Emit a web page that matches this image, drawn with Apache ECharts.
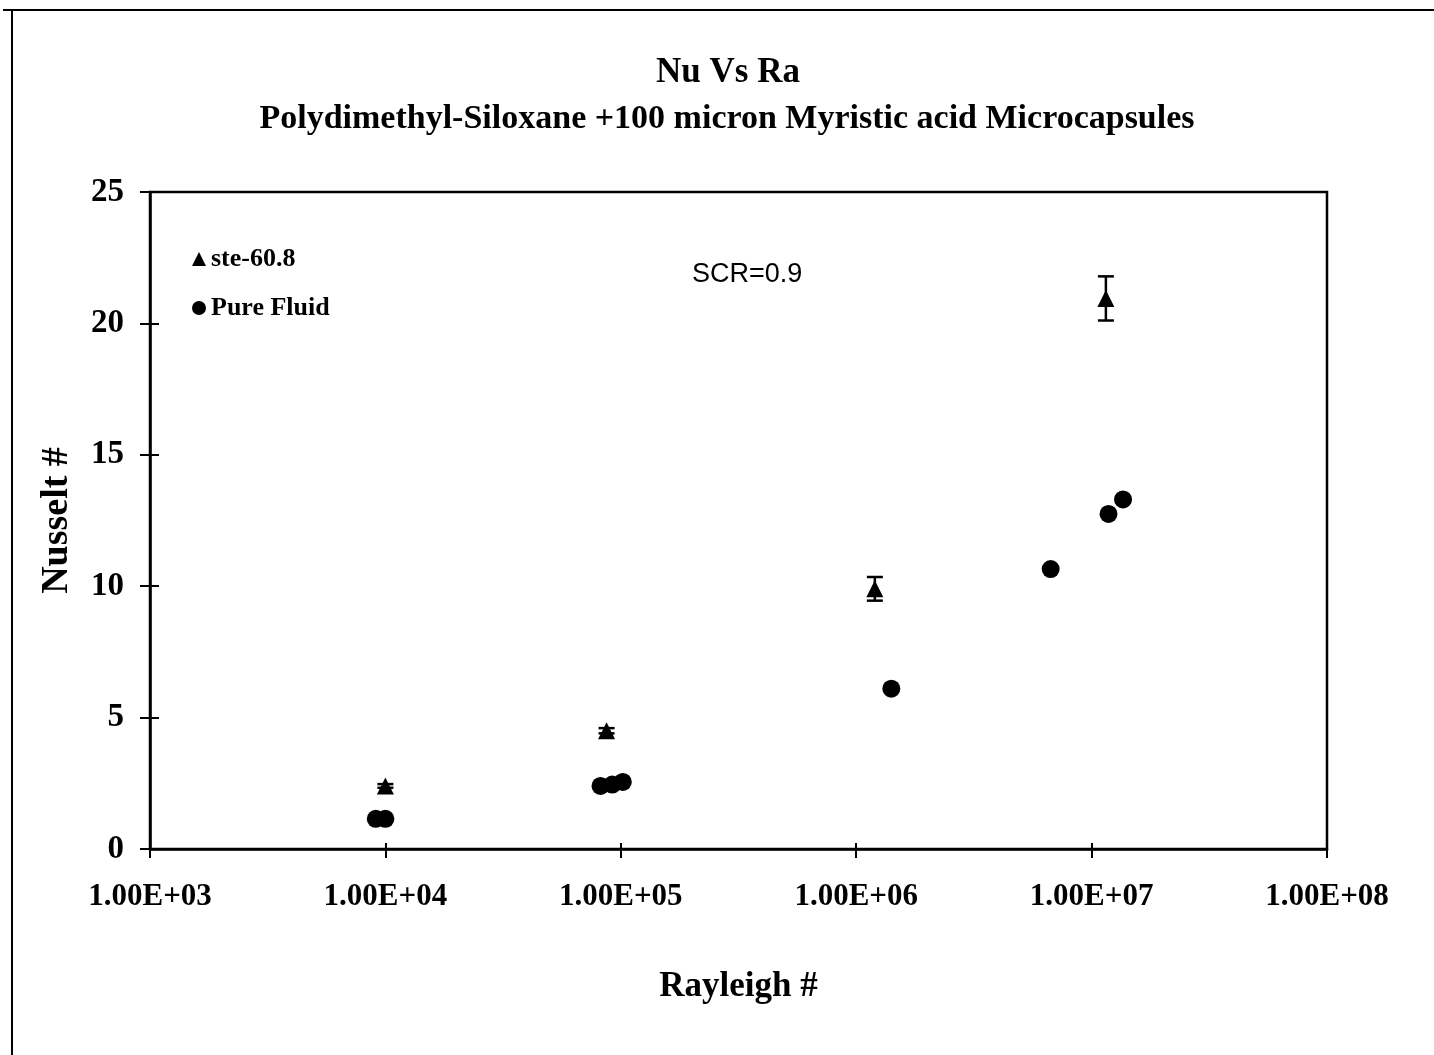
<!DOCTYPE html>
<html>
<head>
<meta charset="utf-8">
<script src="https://cdn.jsdelivr.net/npm/echarts@6/dist/echarts.min.js"></script>
<style>html,body{margin:0;padding:0;background:#fff;}#c{width:1434px;height:1055px;}</style>
</head>
<body>
<div id="c"></div>
<script>
// Data
const steRa = [1.0e4, 8.7e4, 1.2e6, 1.15e7];
const steNu = [2.4, 4.5, 9.9, 20.95];
const steErr = [0.07, 0.1, 0.45, 0.84];
const pureRa = [9.1e3, 1.0e4, 8.2e4, 9.2e4, 1.02e5, 1.41e6, 6.7e6, 1.18e7, 1.36e7];
const pureNu = [1.15, 1.15, 2.4, 2.45, 2.55, 6.1, 10.65, 12.75, 13.3];
const yTicks = [0, 5, 10, 15, 20, 25];
const xTickLabels = ['1.00E+03','1.00E+04','1.00E+05','1.00E+06','1.00E+07','1.00E+08'];
const titleText = 'Nu Vs Ra';
const subtitleText = 'Polydimethyl-Siloxane +100 micron Myristic acid Microcapsules';

const SERIF = '"Liberation Serif", "DejaVu Serif", serif';
const chart = echarts.init(document.getElementById('c'));

function fmtExp(v) {
  const e = Math.round(Math.log10(v));
  const idx = e - 3;
  return xTickLabels[idx] !== undefined ? xTickLabels[idx] : '';
}

const axisLineStyle = { color: '#000', width: 2.5 };

chart.setOption({
  backgroundColor: '#fff',
  animation: false,
  title: [
    { text: 'SCR=0.9', left: 687, top: 256,
      textStyle: { fontFamily: '"Liberation Sans", Arial, sans-serif', fontWeight: 'normal', fontSize: 27, color: '#000' } }
  ],
  legend: {
    orient: 'vertical', left: 187, top: 241, itemGap: 23,
    itemWidth: 14, itemHeight: 14,
    data: [{ name: 'ste-60.8', icon: 'triangle' }, { name: 'Pure Fluid', icon: 'circle' }],
    textStyle: { fontFamily: SERIF, fontWeight: 'bold', fontSize: 26, color: '#000' }
  },
  grid: { left: 150, right: 107, top: 192, bottom: 206, show: true, borderColor: '#000', borderWidth: 2.5, backgroundColor: 'transparent' },
  xAxis: [
    { type: 'log', logBase: 10, min: 1e3, max: 1e8, position: 'bottom',
      name: 'Rayleigh #', nameLocation: 'middle', nameGap: 120,
      nameTextStyle: { fontFamily: SERIF, fontWeight: 'bold', fontSize: 35, color: '#000' },
      axisLine: { show: true, lineStyle: axisLineStyle },
      axisTick: { show: true, length: 9, lineStyle: { color: '#000', width: 2 } },
      axisLabel: { formatter: fmtExp, margin: 32, fontFamily: SERIF, fontWeight: 'bold', fontSize: 31, color: '#000' },
      splitLine: { show: false }, minorTick: { show: false } },
    { type: 'log', logBase: 10, min: 1e3, max: 1e8, position: 'bottom', gridIndex: 0,
      axisLine: { show: false },
      axisTick: { show: true, inside: true, length: 6, lineStyle: { color: '#000', width: 2 } },
      axisLabel: { show: false }, splitLine: { show: false } }
  ],
  yAxis: [
    { type: 'value', min: 0, max: 25, interval: 5,
      name: 'Nusselt #', nameLocation: 'middle', nameGap: 74, nameRotate: 90,
      nameTextStyle: { fontFamily: SERIF, fontWeight: 'bold', fontSize: 38, color: '#000' },
      axisLine: { show: true, lineStyle: axisLineStyle },
      axisTick: { show: true, length: 10, lineStyle: { color: '#000', width: 2 } },
      axisLabel: { margin: 26, fontFamily: SERIF, fontWeight: 'bold', fontSize: 33, color: '#000',
        formatter: v => yTicks.indexOf(v) >= 0 ? String(v) : '' },
      splitLine: { show: false } },
    { type: 'value', min: 0, max: 25, interval: 5, position: 'left', gridIndex: 0,
      axisLine: { show: false },
      axisTick: { show: true, inside: true, length: 9, lineStyle: { color: '#000', width: 2 } },
      axisLabel: { show: false }, splitLine: { show: false } }
  ],
  series: [
    { name: 'ste-60.8', type: 'scatter', symbol: 'triangle', symbolSize: 17,
      itemStyle: { color: '#000', opacity: 1 }, z: 3,
      data: steRa.map((x, i) => [x, steNu[i]]) },
    { name: 'Pure Fluid', type: 'scatter', symbol: 'circle', symbolSize: 18,
      itemStyle: { color: '#000', opacity: 1 }, z: 3,
      data: pureRa.map((x, i) => [x, pureNu[i]]) },
    { name: 'err', type: 'custom', z: 4,
      data: steRa.map((x, i) => [x, steNu[i] - steErr[i], steNu[i] + steErr[i]]),
      renderItem: function (params, api) {
        const lo = api.coord([api.value(0), api.value(1)]);
        const hi = api.coord([api.value(0), api.value(2)]);
        const w = 8;
        const st = { stroke: '#000', lineWidth: 2.5 };
        return { type: 'group', children: [
          { type: 'line', shape: { x1: lo[0], y1: lo[1], x2: hi[0], y2: hi[1] }, style: st },
          { type: 'line', shape: { x1: lo[0] - w, y1: lo[1], x2: lo[0] + w, y2: lo[1] }, style: st },
          { type: 'line', shape: { x1: hi[0] - w, y1: hi[1], x2: hi[0] + w, y2: hi[1] }, style: st }
        ] };
      } }
  ],
  graphic: [
    { type: 'line', shape: { x1: 3, y1: 10, x2: 1434, y2: 10 }, style: { stroke: '#000', lineWidth: 2 } },
    { type: 'line', shape: { x1: 12, y1: 10, x2: 12, y2: 1055 }, style: { stroke: '#000', lineWidth: 2 } },
    { type: 'text', x: 728, y: 73, style: { text: titleText, textAlign: 'center', textVerticalAlign: 'middle',
        font: 'bold 35px ' + SERIF, fill: '#000' } },
    { type: 'text', x: 727, y: 119, style: { text: subtitleText, textAlign: 'center', textVerticalAlign: 'middle',
        font: 'bold 34px ' + SERIF, fill: '#000' } }
  ]
});
</script>
</body>
</html>
